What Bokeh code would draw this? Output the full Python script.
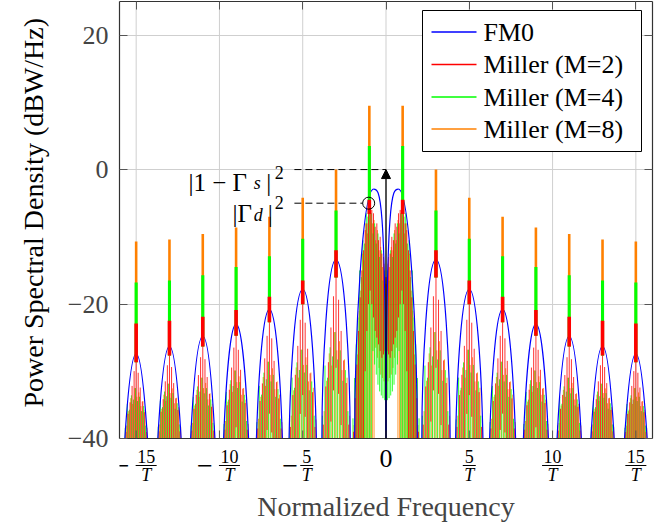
from bokeh.plotting import figure
from bokeh.models import (ColumnDataSource, FixedTicker, Label, Arrow,
                          NormalHead, LinearAxis, Range1d, Title)
from bokeh.embed import file_html
from bokeh.resources import INLINE
from bokeh.core.properties import value

FONT = "Liberation Serif"

# ---------------- data ----------------
x_ticks = [-15, -10, -5, 0, 5, 10, 15]
x_tick_num = ["15", "10", "5", "0", "5", "10", "15"]
y_ticks = [-40, -20, 0, 20]
y_tick_labels = ["\u221240", "\u221220", "0", "20"]

series_names = ["FM0", "Miller (M=2)", "Miller (M=4)", "Miller (M=8)"]
series_colors = ["#0000ff", "#ff0000", "#00ff00", "#ff8000"]
miller_M = [2, 4, 8]

# odd harmonics (each lobe appears at +k and -k)
harmonics = [1, 3, 5, 7, 9, 11, 13, 15]
# FM0 lobes: peak position / level, and where each lobe meets the -40 dB floor
fm0_peak_x = [0.74, 3.0, 5.0, 7.0, 9.0, 11.0, 13.0, 15.0]
fm0_peak_db = [-2.9, -13.4, -17.8, -20.8, -23.0, -24.8, -26.3, -27.4]
fm0_foot_lo = [0.01, 2.15, 4.18, 6.22, 8.25, 10.27, 12.30, 14.32]
fm0_foot_hi = [1.88, 3.85, 5.82, 7.78, 9.75, 11.73, 13.70, 15.68]

# Miller: tops of the narrow lines at the odd harmonics (dB)
line_top_m2 = [-4.5, -12.0, -16.5, -18.9, -20.9, -21.9, -22.5, -22.9]
line_top_m4 = [3.5, -6.1, -10.3, -12.9, -14.5, -15.7, -16.5, -16.8]
line_top_m8 = [9.5, 0.0, -4.2, -7.0, -8.6, -9.6, -10.4, -10.7]

# Miller continuous part around harmonics 3..15 (estimated strokes):
# position across the lobe (-1..1) and drop below the lobe level (fraction of lobe depth)
body_u = [-1.0, -0.8, -0.6, -0.4, -0.2, 0.0, 0.2, 0.4, 0.6, 0.8, 1.0]
body_drop_m2 = [0.92, 0.68, 0.55, 0.38, 0.20, 0.05, 0.18, 0.36, 0.56, 0.70, 0.92]
body_drop_m4 = [0.82, 0.55, 0.62, 0.42, 0.48, 0.30, 0.46, 0.40, 0.60, 0.52, 0.85]
body_drop_m8 = [0.85, 0.60, 0.48, 0.55, 0.36, 0.42, 0.30, 0.52, 0.44, 0.62, 0.82]
body_level = [0.97, 0.85, 0.85]         # lobe level relative to FM0 lobe depth
body_swing = [14.0, 40.0, 40.0]         # dB span of each stroke below its top
body_shift = [0.0, 0.067, -0.067]       # stroke interleaving (lobe units)

# Miller continuous part around DC (|f| < 2), for f >= 0 (mirrored for f < 0)
center_x = [0.05, 0.15, 0.25, 0.35, 0.45, 0.55, 0.65, 0.75, 0.85, 0.95,
            1.05, 1.15, 1.25, 1.35, 1.45, 1.55, 1.65, 1.75, 1.85, 1.95]
center_top_m2 = [-16, -13, -12.5, -10, -10.5, -8, -8.5, -6.5, -6, -5,
                 -5.5, -8, -9, -12, -15, -19, -24, -29, -34, -39]
center_top_m4 = [-15, -16.5, -12, -13, -9.5, -11, -8, -9.5, -6.5, -5.5,
                 -7, -6.5, -11, -10.5, -16, -15, -22, -26, -31, -37]
center_top_m8 = [-17, -14, -14.5, -11.5, -12, -9, -10.5, -7.5, -8, -6,
                 -6.5, -9.5, -8, -13.5, -12.5, -18, -21, -27.5, -32, -38]
center_low_m2 = [-27, -27.5, -28, -27, -26, -25, -24, -22, -20, -18,
                 -20, -24, -30, -40, -40, -40, -40, -40, -40, -40]
center_low_m4 = [-34.3, -34.0, -33.6, -33.0, -32.0, -30.5, -29.0, -27.0, -40, -40,
                 -40, -40, -40, -40, -40, -40, -40, -40, -40, -40]
center_low_m8 = [-32, -31.5, -31, -30.5, -29.5, -28, -26.5, -40, -40, -40,
                 -40, -40, -40, -40, -40, -40, -40, -40, -40, -40]
center_shift = [0.0, 0.033, -0.033]

# annotation values
gamma_s_db = 0.0      # |1 - Gamma_s|^2 : DC line tip
gamma_d_db = -5.0     # |Gamma_d|^2
gamma_d_x = -1.04     # marked point
text_right_x = -6.14  # right end of the annotation texts
dash_start_x = -5.5

# ---------------- layout ----------------
LEFT, TOP = 113, 1                      # frame position on the page (px)
FW, PLOT_H, LABEL_PX = 533, 437, 46     # frame width, data-area height, tick-label band
XR = (-16, 16)
Y_TOP, FLOOR = 25, -40
ppx = FW / (XR[1] - XR[0])
ppy = PLOT_H / (Y_TOP - FLOOR)
Y_MIN = FLOOR - LABEL_PX / ppy
FH = PLOT_H + LABEL_PX


def dx_(px):   # page x (px) -> data x
    return XR[0] + (px - LEFT) / ppx


def dy_(py):   # page y (px) -> data y
    return Y_TOP - (py - TOP) / ppy


p = figure(frame_width=FW, frame_height=FH, x_range=Range1d(*XR),
           y_range=Range1d(Y_MIN, Y_TOP),
           output_backend="svg", toolbar_location=None,
           min_border_left=LEFT, min_border_right=5, min_border_top=TOP,
           min_border_bottom=5, background_fill_color="white",
           border_fill_color="white")
p.outline_line_color = None
p.xgrid.visible = False
p.ygrid.ticker = FixedTicker(ticks=y_ticks)
p.ygrid.grid_line_color = "#cfcfcf"
p.ygrid.bounds = (FLOOR, Y_TOP)

AX = "#333333"
# vertical grid lines
p.segment(x0=x_ticks, y0=[FLOOR] * len(x_ticks), x1=x_ticks, y1=[Y_TOP] * len(x_ticks),
          line_color="#cfcfcf", line_width=1)

# ---------------- Miller continuous parts ----------------
body_drops = [body_drop_m2, body_drop_m4, body_drop_m8]
center_tops = [center_top_m2, center_top_m4, center_top_m8]
center_lows = [center_low_m2, center_low_m4, center_low_m8]
for ci in (2, 1, 0):
    xs, y0s, y1s = [], [], []
    for i in range(1, len(harmonics)):
        k = harmonics[i]
        hw = 0.9 * (fm0_foot_hi[i] - fm0_foot_lo[i]) / 2
        depth = fm0_peak_db[i] - FLOOR
        for u, dr in zip(body_u, body_drops[ci]):
            top = FLOOR + body_level[ci] * depth * (1 - dr)
            low = max(FLOOR, top - body_swing[ci])
            for s in (1, -1):
                xs.append(s * k - (u + body_shift[ci]) * hw)
                y0s.append(low)
                y1s.append(top)
    for xc, top, low in zip(center_x, center_tops[ci], center_lows[ci]):
        for s in (1, -1):
            xs.append(s * (xc + center_shift[ci]))
            y0s.append(low)
            y1s.append(top)
    src = ColumnDataSource(dict(x=xs, y0=y0s, y1=y1s))
    p.segment(x0="x", y0="y0", x1="x", y1="y1", source=src,
              line_color=series_colors[ci + 1], line_width=0.85, line_alpha=0.95)

# ---------------- FM0 lobes (cubic arcs from floor to peak) ----------------
def arm_shape(depth):
    t = min(max((depth - 12.0) / 15.0, 0.0), 1.0)
    return (1 / 3) * (1 - t), (2 / 3) - 0.27 * t, (1 / 3) + 0.27 * t

bz = dict(x0=[], y0=[], x1=[], y1=[], cx0=[], cy0=[], cx1=[], cy1=[])
for i in range(len(harmonics)):
    pkx, pky = fm0_peak_x[i], fm0_peak_db[i]
    depth = pky - FLOOR
    for foot in (fm0_foot_lo[i], fm0_foot_hi[i]):
        w = abs(pkx - foot)
        d = 1 if foot > pkx else -1
        if i == 0 and foot < pkx:
            a, b, c = 0.0, 1.0, 0.5
        else:
            a, b, c = arm_shape(depth)
        for s in (1, -1):
            bz["x0"].append(s * foot)
            bz["y0"].append(FLOOR)
            bz["cx0"].append(s * (foot - d * a * w))
            bz["cy0"].append(FLOOR + b * depth)
            bz["cx1"].append(s * (pkx + d * c * w))
            bz["cy1"].append(pky)
            bz["x1"].append(s * pkx)
            bz["y1"].append(pky)
p.bezier(x0="x0", y0="y0", x1="x1", y1="y1", cx0="cx0", cy0="cy0",
         cx1="cx1", cy1="cy1", source=ColumnDataSource(bz),
         line_color=series_colors[0], line_width=1.2)

# ---------------- Miller lines at the harmonics ----------------
line_tops = [line_top_m2, line_top_m4, line_top_m8]
line_widths = [3.6, 3.1, 2.6]
for ci in (2, 1, 0):
    xs, y0s, y1s = [], [], []
    for i, k in enumerate(harmonics):
        base = FLOOR + 0.9 * (fm0_peak_db[i] - FLOOR)
        for s in (1, -1):
            xs.append(s * k)
            y0s.append(base)
            y1s.append(line_tops[ci][i])
    p.segment(x0="x", y0="y0", x1="x", y1="y1",
              source=ColumnDataSource(dict(x=xs, y0=y0s, y1=y1s)),
              line_color=series_colors[ci + 1], line_width=line_widths[ci])

# bottom frame edge (at -40) with inward ticks
p.segment(x0=[XR[0]], y0=[FLOOR], x1=[XR[1]], y1=[FLOOR], line_color=AX, line_width=1.2)
p.segment(x0=x_ticks, y0=[FLOOR] * len(x_ticks), x1=x_ticks,
          y1=[FLOOR + 8 / ppy] * len(x_ticks), line_color="#555555", line_width=1)

# ---------------- annotations ----------------
p.segment(x0=[dash_start_x, dash_start_x], y0=[gamma_s_db, gamma_d_db],
          x1=[0.0, gamma_d_x - 0.36], y1=[gamma_s_db, gamma_d_db],
          line_color="black", line_width=1, line_dash="7 4")
p.scatter(x=[gamma_d_x], y=[gamma_d_db], marker="circle", size=12,
          fill_color=None, line_color="black", line_width=1)
p.add_layout(Arrow(x_start=0, y_start=FLOOR, x_end=0, y_end=gamma_s_db,
                   line_color="black", line_width=1.3,
                   end=NormalHead(size=9, fill_color="black", line_color="black")))

pieces = [
    ("|1 \u2212 \u0393", -36.7, gamma_s_db, -12.7, "25px", "normal", "right"),
    ("s", -30.0, gamma_s_db, -13.5, "18px", "italic", "left"),
    ("|", -15.0, gamma_s_db, -12.7, "25px", "normal", "center"),
    ("2", 0.0, gamma_s_db, -2.7, "18px", "normal", "right"),
    ("|\u0393", -31.7, gamma_d_db, -10.6, "25px", "normal", "right"),
    ("d", -30.0, gamma_d_db, -11.5, "18px", "italic", "left"),
    ("|", -13.4, gamma_d_db, -10.6, "25px", "normal", "center"),
    ("2", 0.0, gamma_d_db, 1.0, "18px", "normal", "right"),
]
for txt, xo, yv, yo, fs, st, al in pieces:
    p.add_layout(Label(x=text_right_x, y=yv, x_offset=xo, y_offset=yo, text=txt,
                       text_font=FONT, text_font_size=fs, text_font_style=st,
                       text_align=al, text_baseline="alphabetic", text_color="black"))

# ---------------- x tick labels: stacked fractions  (-k/T) ----------------
num = dict(x=[], y=[], text=[])
den = dict(x=[], y=[], text=[])
zero = dict(x=[], y=[], text=[])
minus = dict(x=[], y=[], text=[])
bars = dict(x0=[], x1=[], y=[])
for t, n in zip(x_ticks, x_tick_num):
    if t == 0:
        zero["x"].append(0.0)
        zero["y"].append(FLOOR - 19.5 / ppy)
        zero["text"].append("0")
        continue
    two = len(n) > 1
    dxp = 0.0 if t > 0 else (10.0 if two else 4.0)
    hw = 10.5 if two else 6.5
    num["x"].append(t + dxp / ppx)
    num["y"].append(FLOOR - 18.0 / ppy)
    num["text"].append(n)
    den["x"].append(t + dxp / ppx)
    den["y"].append(FLOOR - 36.5 / ppy)
    den["text"].append("T")
    bars["x0"].append(t + (dxp - hw) / ppx)
    bars["x1"].append(t + (dxp + hw) / ppx)
    bars["y"].append(FLOOR - 27.0 / ppy)
    if t < 0:
        mdx = -14.6 if two else -12.5
        minus["x"].append(t + mdx / ppx)
        minus["y"].append(FLOOR - 27.0 / ppy)
        minus["text"].append("\u2212")
p.text(x="x", y="y", text="text", source=ColumnDataSource(num),
       text_font=value(FONT), text_font_size=value("18px"),
       text_align=value("center"), text_baseline=value("middle"), text_color="black")
p.text(x="x", y="y", text="text", source=ColumnDataSource(den),
       text_font=value(FONT), text_font_size=value("18px"),
       text_font_style=value("italic"),
       text_align=value("center"), text_baseline=value("middle"), text_color="black")
p.text(x="x", y="y", text="text", source=ColumnDataSource(zero),
       text_font=value(FONT), text_font_size=value("26px"),
       text_align=value("center"), text_baseline=value("middle"), text_color="black")
p.text(x="x", y="y", text="text", source=ColumnDataSource(minus),
       text_font=value(FONT), text_font_size=value("28px"),
       text_align=value("center"), text_baseline=value("middle"), text_color="black")
p.segment(x0="x0", y0="y", x1="x1", y1="y", source=ColumnDataSource(bars),
          line_color="black", line_width=1.1)

# ---------------- legend (box, keys, labels) ----------------
LEG_BOX = (416, 10, 635, 151)            # px: left, top, right, bottom
LEG_ROWS = [31.5, 64.0, 96.5, 128.5]     # px: row centres
LEG_KEY = (425, 470)                     # px: key line from / to
LEG_TEXT_X = 477
p.quad(left=[dx_(LEG_BOX[0])], right=[dx_(LEG_BOX[2])], top=[dy_(LEG_BOX[1])],
       bottom=[dy_(LEG_BOX[3])], fill_color="white", line_color="black", line_width=1)
p.segment(x0=[dx_(LEG_KEY[0])] * 4, x1=[dx_(LEG_KEY[1])] * 4,
          y0=[dy_(r) for r in LEG_ROWS], y1=[dy_(r) for r in LEG_ROWS],
          line_color=series_colors, line_width=1.4)
p.text(x=[dx_(LEG_TEXT_X)] * 4, y=[dy_(r) for r in LEG_ROWS], text=series_names,
       text_font=value(FONT), text_font_size=value("26px"),
       text_align=value("left"), text_baseline=value("middle"), text_color="black")

# ---------------- axes ----------------
yax = p.yaxis[0]
yax.ticker = FixedTicker(ticks=y_ticks)
yax.bounds = (FLOOR, Y_TOP)
yax.major_label_overrides = dict(zip(y_ticks, y_tick_labels))
yax.major_label_text_font = FONT
yax.major_label_text_font_size = "26px"
yax.major_label_standoff = 11

xax = p.xaxis[0]
xax.ticker = FixedTicker(ticks=x_ticks)
xax.major_label_overrides = {t: "" for t in x_ticks}
xax.major_label_text_font_size = "0px"
xax.major_label_standoff = 0
xax.axis_line_color = None
xax.major_tick_line_color = None
xax.minor_tick_line_color = None
xax.axis_label = "Normalized Frequency"
xax.axis_label_text_font = FONT
xax.axis_label_text_font_size = "28px"
xax.axis_label_text_font_style = "normal"
xax.axis_label_standoff = 0

top_ax = LinearAxis(ticker=FixedTicker(ticks=x_ticks),
                    major_label_overrides={t: "" for t in x_ticks})
right_ax = LinearAxis(ticker=FixedTicker(ticks=y_ticks), bounds=(FLOOR, Y_TOP),
                      major_label_overrides={t: "" for t in y_ticks})
for ax in (yax, top_ax, right_ax):
    ax.major_tick_in = 8
    ax.major_tick_out = 0
    ax.minor_tick_line_color = None
    ax.axis_line_color = AX
    ax.axis_line_width = 1.2
    ax.major_tick_line_color = "#555555"
for ax in (top_ax, right_ax):
    ax.major_label_text_font_size = "0px"
    ax.major_label_standoff = 0
p.add_layout(top_ax, "above")
p.add_layout(right_ax, "right")

# y-axis title, placed along the -40..25 data area (bottom end at -40 + offset)
p.add_layout(Title(text="Power Spectral Density (dBW/Hz)", align="left",
                   offset=LABEL_PX + 31, standoff=31, text_font=FONT,
                   text_font_size="28px", text_font_style="normal",
                   text_color="black"), "left")

open("out.html", "w").write(file_html(p, INLINE))
